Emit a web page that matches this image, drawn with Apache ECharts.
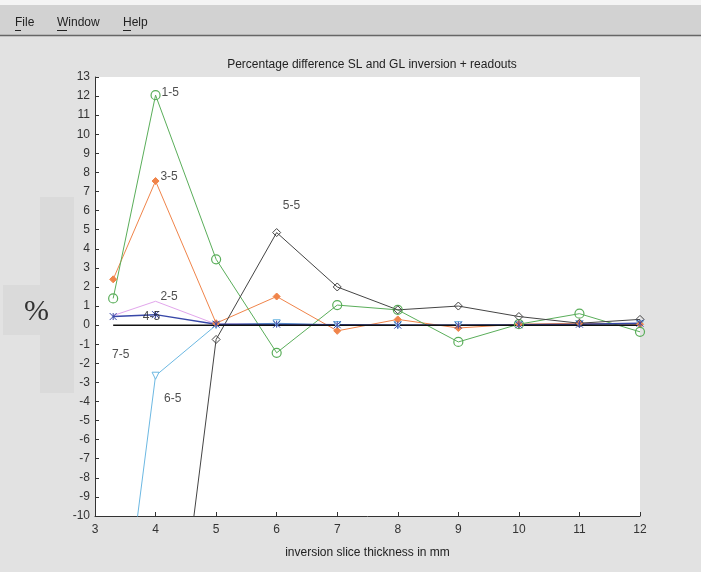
<!DOCTYPE html>
<html><head><meta charset="utf-8">
<script src="https://cdn.jsdelivr.net/npm/echarts@6/dist/echarts.min.js"></script>
<style>html,body{margin:0;padding:0;background:#e2e2e2}#c{width:701px;height:572px}</style>
</head><body><div id="c"></div>
<script>
// x positions (slice thickness, mm)
const xs = [3.3, 4, 5, 6, 7, 8, 9, 10, 11, 12];
// series values (percentage difference)
const s15 = [1.4, 12.05, 3.45, -1.45, 1.05, 0.8, -0.88, 0.05, 0.6, -0.35];
const s25 = [0.5, 1.25, 0.05, 0.05, 0.0, 0.0, 0.0, 0.0, 0.0, 0.0];
const s35 = [2.4, 7.55, 0.1, 1.5, -0.3, 0.3, -0.15, 0.05, 0.1, 0.05];
const s45 = [0.45, 0.55, 0.05, 0.05, 0.02, 0.0, 0.0, 0.02, 0.05, 0.1];
const s55 = [-40, -26, -0.75, 4.85, 2.0, 0.8, 1.0, 0.45, 0.1, 0.3];
const s65 = [-20, -2.65, 0.0, 0.1, 0.0, 0.0, 0.0, 0.0, 0.05, 0.05];
const s75 = [0, 0, 0, 0, 0, 0, 0, 0, 0, 0];
// text labels: [x, y, text]
const labels = [[4.1, 12.2, '1-5'], [4.08, 7.8, '3-5'], [4.08, 1.5, '2-5'], [3.79, 0.45, '4-5'],
                [3.28, -1.55, '7-5'], [4.14, -3.85, '6-5'], [6.1, 6.24, '5-5']];
const xTicks = [3, 12, 1];
const yTicks = [-10, 13, 1];

const pts = v => xs.map((x, i) => [x, v[i]]);
const mk = (name, vals, color, symbol, size, extra) => Object.assign({
  type: 'line', name, data: pts(vals), symbol, symbolSize: size, showSymbol: true,
  lineStyle: { color, width: 1 }, itemStyle: { color, borderColor: color, borderWidth: 1 },
  emphasis: { disabled: true }, animation: false, clip: true, z: 2
}, extra || {});

const chart = echarts.init(document.getElementById('c'));
chart.setOption({
  backgroundColor: '#e2e2e2',
  animation: false,
  title: { text: 'Percentage difference SL and GL inversion + readouts', left: 367, top: 54, textAlign: 'center',
    textStyle: { fontFamily: 'Liberation Sans', fontSize: 12, fontWeight: 'normal', color: '#222' } },
  grid: { left: 95, right: 61, top: 77, bottom: 56, show: true, backgroundColor: '#ffffff', borderWidth: 0 },
  xAxis: { type: 'value', min: xTicks[0], max: xTicks[1], interval: xTicks[2],
    name: 'inversion slice thickness in mm', nameLocation: 'middle', nameGap: 31,
    nameTextStyle: { fontFamily: 'Liberation Sans', fontSize: 12, color: '#222' },
    axisLine: { onZero: false, lineStyle: { color: '#333', width: 1 } },
    axisTick: { inside: true, length: 4, lineStyle: { color: '#333' } },
    axisLabel: { margin: 8, fontFamily: 'Liberation Sans', fontSize: 12, color: '#333' },
    splitLine: { show: false } },
  yAxis: { type: 'value', min: yTicks[0], max: yTicks[1], interval: yTicks[2],
    axisLine: { onZero: false, lineStyle: { color: '#333', width: 1 } },
    axisTick: { inside: true, length: 4, lineStyle: { color: '#333' } },
    axisLabel: { margin: 5, fontFamily: 'Liberation Sans', fontSize: 12, color: '#333' },
    splitLine: { show: false } },
  graphic: [
    { type: 'rect', shape: { x: 0, y: 0, width: 701, height: 5 }, style: { fill: '#f4f4f4' }, z: -10 },
    { type: 'rect', shape: { x: 0, y: 5, width: 701, height: 30 }, style: { fill: '#d2d2d2' }, z: -10 },
    { type: 'line', shape: { x1: 0, y1: 35.5, x2: 701, y2: 35.5 }, style: { stroke: '#666', lineWidth: 1.5 } },
    { type: 'rect', shape: { x: 40, y: 197, width: 34, height: 196 }, style: { fill: '#dadada' }, z: -10 },
    { type: 'rect', shape: { x: 3, y: 285, width: 71, height: 50 }, style: { fill: '#dadada' }, z: -10 },
    { type: 'text', left: 15, top: 17, style: { text: 'File', font: '12px Liberation Sans', fill: '#222' } },
    { type: 'text', left: 57, top: 17, style: { text: 'Window', font: '12px Liberation Sans', fill: '#222' } },
    { type: 'text', left: 123, top: 17, style: { text: 'Help', font: '12px Liberation Sans', fill: '#222' } },
    { type: 'line', shape: { x1: 15, y1: 30.5, x2: 21, y2: 30.5 }, style: { stroke: '#222', lineWidth: 1 } },
    { type: 'line', shape: { x1: 57, y1: 30.5, x2: 67, y2: 30.5 }, style: { stroke: '#222', lineWidth: 1 } },
    { type: 'line', shape: { x1: 123, y1: 30.5, x2: 131, y2: 30.5 }, style: { stroke: '#222', lineWidth: 1 } },
    { type: 'text', left: 24, top: 297, style: { text: '%', font: '30px Liberation Serif', fill: '#333' } }
  ],
  series: [
    mk('2-5', s25, '#e2a6ec', 'none', 0),
    mk('6-5', s65, '#6cb8e2', 'triangle', 7, { symbolRotate: 180, itemStyle: { color: '#fff', borderColor: '#6cb8e2', borderWidth: 1 } }),
    mk('3-5', s35, '#f0844a', 'diamond', 7),
    mk('1-5', s15, '#5aae5a', 'circle', 9, { itemStyle: { color: 'rgba(255,255,255,0)', borderColor: '#5aae5a', borderWidth: 1.2 } }),
    mk('5-5', s55, '#444444', 'diamond', 8, { itemStyle: { color: 'rgba(255,255,255,0)', borderColor: '#444', borderWidth: 1 } }),
    mk('4-5', s45, '#3848a8', 'path://M0,0L10,10M10,0L0,10M5,0L5,10', 7, { lineStyle: { color: '#3848a8', width: 1.5 }, itemStyle: { color: '#3848a8', borderColor: '#3848a8', borderWidth: 1 } }),
    mk('7-5', s75, '#111111', 'none', 0, { lineStyle: { color: '#111', width: 1.5 } }),
    { type: 'scatter', name: 'labels', data: labels, symbolSize: 0, silent: true, z: 5,
      label: { show: true, position: 'right', distance: 0, formatter: p => p.data[2],
        fontFamily: 'Liberation Sans', fontSize: 12, color: '#222' } }
  ]
});
</script></body></html>
